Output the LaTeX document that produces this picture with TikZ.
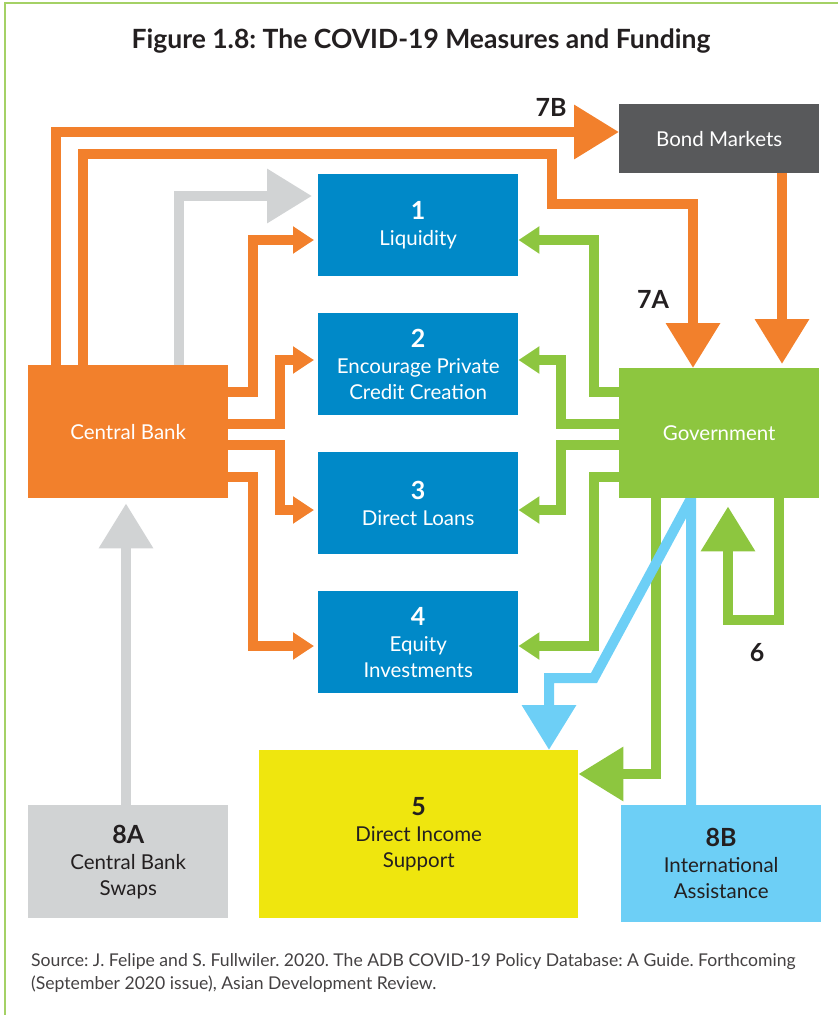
\documentclass[tikz,border=0pt]{standalone}
\usepackage{fontspec}
\setmainfont{Lato}
\usepackage{tikz}
\usetikzlibrary{positioning, arrows.meta, backgrounds}
\frenchspacing

\definecolor{cbOrange}{RGB}{242,128,44}
\definecolor{govGreen}{RGB}{141,198,63}
\definecolor{measBlue}{RGB}{0,137,200}
\definecolor{bondGray}{RGB}{88,89,91}
\definecolor{swapGray}{RGB}{209,211,212}
\definecolor{intlBlue}{RGB}{109,207,246}
\definecolor{incYellow}{RGB}{239,230,14}
\definecolor{inkDark}{RGB}{35,31,32}

\tikzset{
  block/.style={anchor=north west, inner sep=0pt, align=center, text=white,
    font=\fontsize{20.5}{26}\selectfont},
  flow/.style={line width=10pt, line join=miter},
  bigtip/.style={-{Triangle[length=45pt,width=52pt]}},
  smalltip/.style={-{Triangle[length=21pt,width=26pt]}},
  tag/.style={font=\fontsize{25}{25}\selectfont\bfseries, text=inkDark},
}
\newcommand{\boxnum}[1]{{\fontsize{25}{28}\selectfont\bfseries #1}}

\begin{document}
\begin{tikzpicture}[x=1pt, y=-1pt]
  \useasboundingbox (0,0) rectangle (838,1015);
  % frame
  \draw[govGreen!80, line width=1.2pt] (838,3) -- (5,3) -- (5,1015);

  \node[font=\fontsize{26.5}{30}\selectfont\bfseries, text=inkDark] (title) at (421,41)
    {Figure 1.8: The COVID-19 Measures and Funding};

  \node[block, fill=cbOrange, minimum width=200pt, minimum height=133pt] (cb) at (28,365) {Central Bank};
  \node[block, fill=govGreen, minimum width=200pt, minimum height=130pt] (gov) at (619,368) {Government};
  \node[block, fill=bondGray, minimum width=200pt, minimum height=69pt] (bond) at (619,104) {Bond Markets};

  \node[block, fill=measBlue, minimum width=200pt, minimum height=102pt] (liq) at (318,174) {\boxnum{1}\\Liquidity};
  \node[block, fill=measBlue, minimum width=200pt, minimum height=102pt] (credit) at (318,313) {\boxnum{2}\\Encourage Private\\Credit Creation};
  \node[block, fill=measBlue, minimum width=200pt, minimum height=102pt] (loans) at (318,452) {\boxnum{3}\\Direct Loans};
  \node[block, fill=measBlue, minimum width=200pt, minimum height=102pt] (equity) at (318,591) {\boxnum{4}\\Equity\\Investments};

  \node[block, fill=incYellow, text=inkDark, minimum width=319pt, minimum height=168pt] (income) at (259,750) {\boxnum{5}\\Direct Income\\Support};
  \node[block, fill=swapGray, text=inkDark, minimum width=200pt, minimum height=113pt] (swaps) at (28,805) {\boxnum{8A}\\Central Bank\\Swaps};
  \node[block, fill=intlBlue, text=inkDark, minimum width=200pt, minimum height=117pt] (intl) at (621,805) {\boxnum{8B}\\International\\Assistance};

  \node[tag] (lab7b) at (551,107) {7B};
  \node[tag] (lab7a) at (653,299) {7A};
  \node[tag] (lab6) at (757,653) {6};

  \begin{pgfonlayer}{background}
    % central bank swaps
    \draw[flow, swapGray, bigtip, shorten >=5pt] (swaps.north -| 126,0) -- (cb.south -| 126,0);
    \draw[flow, swapGray, bigtip, shorten >=6pt] (cb.north -| 179,0) -- (179,196) -- (liq.west |- 0,196);

    % 7B and 7A
    \draw[flow, cbOrange, bigtip] (cb.north -| 56,0) -- (56,132) -- (bond.west |- 0,132);
    \draw[flow, cbOrange, bigtip] (cb.north -| 83,0) -- (83,154) -- (552,154) -- (552,204) -- (693,204) -- (gov.north -| 693,0);
    \draw[flow, cbOrange, bigtip, shorten >=4pt] (bond.south -| 782,0) -- (gov.north -| 782,0);

    % central bank to measures
    \draw[flow, cbOrange, smalltip, shorten >=4pt] (cb.east |- 0,392) -- (253,392) -- (253,240) -- (liq.west |- 0,240);
    \draw[flow, cbOrange, smalltip, shorten >=4pt] (cb.east |- 0,424) -- (280,424) -- (280,360) -- (credit.west |- 0,360);
    \draw[flow, cbOrange, smalltip, shorten >=4pt] (cb.east |- 0,445) -- (280,445) -- (280,510) -- (loans.west |- 0,510);
    \draw[flow, cbOrange, smalltip, shorten >=4pt] (cb.east |- 0,477) -- (253,477) -- (253,646) -- (equity.west |- 0,646);

    % government to measures
    \draw[flow, govGreen, smalltip] (gov.west |- 0,392) -- (594,392) -- (594,240) -- (liq.east |- 0,240);
    \draw[flow, govGreen, smalltip] (gov.west |- 0,424) -- (561,424) -- (561,360) -- (credit.east |- 0,360);
    \draw[flow, govGreen, smalltip] (gov.west |- 0,445) -- (561,445) -- (561,510) -- (loans.east |- 0,510);
    \draw[flow, govGreen, smalltip] (gov.west |- 0,477) -- (594,477) -- (594,646) -- (equity.east |- 0,646);
    \draw[flow, govGreen, bigtip] (gov.south -| 656,0) -- (656,774) -- (income.east |- 0,774);
    % 6
    \draw[flow, govGreen, bigtip, shorten >=8pt] (gov.south -| 779,0) -- (779,620) -- (728,620) -- (gov.south -| 728,0);

    % international assistance
    \draw[flow, intlBlue, bigtip] (intl.north -| 691,0) -- (gov.south -| 691,0) -- (594,678) -- (549,678) -- (income.north -| 549,0);
  \end{pgfonlayer}

  \node[anchor=north west, align=left, inner sep=0pt, text=inkDark!85,
    font=\fontsize{17.6}{23}\selectfont] (source) at (31,953)
    {Source: J. Felipe and S. Fullwiler. 2020. The ADB COVID-19 Policy Database: A Guide. Forthcoming\\
     (September 2020 issue), Asian Development Review.};
\end{tikzpicture}
\end{document}
